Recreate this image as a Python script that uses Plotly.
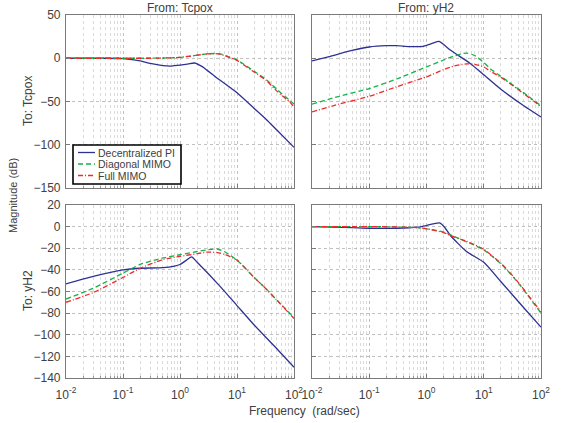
import plotly.graph_objects as go

# ---------------- data ----------------
# Tcpox -> Tcpox (top-left)
f_tl_pi = [0.01, 0.05, 0.1, 0.2, 0.3, 0.5, 0.7, 1.0, 1.4, 1.8, 2.5, 3, 4.5, 6, 10, 20, 33, 50, 100]
m_tl_pi = [0, 0, -0.5, -3, -6, -8.5, -9, -8, -6.5, -5.5, -10, -14, -23, -29, -40, -58, -71, -83, -103]
f_tl_mimo = [0.01, 0.1, 0.3, 0.7, 1, 2, 3, 4, 5, 7, 10, 20, 33, 50, 85, 100]
m_tl_diag = [0, 0, 0, 0.5, 1, 3.5, 5, 5.5, 5, 2, -2, -15, -25, -36, -49, -53]
m_tl_full = [0, 0, 0, 0.5, 1, 3.5, 5, 5.3, 4.8, 1.5, -2.5, -16, -26, -38, -51, -56]

# yH2 -> Tcpox (top-right)
f_tr_pi = [0.01, 0.02, 0.05, 0.1, 0.2, 0.3, 0.5, 0.8, 1.0, 1.3, 1.66, 2.6, 5.8, 10, 21, 50, 100]
m_tr_pi = [-3, 2, 9, 13, 14.5, 14.5, 13.5, 13.5, 15, 17.5, 19.5, 9.5, -6, -19, -37, -55, -68]
f_tr_mimo = [0.01, 0.03, 0.1, 0.3, 1, 2, 3, 5, 7, 10, 13, 20, 50, 100]
m_tr_diag = [-53, -44, -35, -24, -10, -2, 2.5, 6, 3, -5, -12, -21, -40, -55]
m_tr_full = [-62, -53, -44, -33, -21.5, -13, -9, -6.5, -7, -10, -15, -22, -41, -56]

# Tcpox -> yH2 (bottom-left)
f_bl_pi = [0.01, 0.03, 0.1, 0.2, 0.5, 0.8, 1.0, 1.3, 1.6, 2, 5, 10, 20, 50, 100]
m_bl_pi = [-53, -46, -40, -38.5, -38, -36.5, -35, -31, -28, -33, -55, -73, -91, -113, -130]
f_bl_mimo = [0.01, 0.03, 0.1, 0.2, 0.5, 1, 2, 3, 4.5, 6, 10, 20, 33, 50, 100]
m_bl_diag = [-67, -57, -43, -35, -29, -26, -23, -21.5, -20.7, -23, -31, -47, -58, -68, -84]
m_bl_full = [-70, -61, -47, -38.5, -30.5, -27.5, -25, -23.6, -24, -25.5, -31, -47, -58, -68, -85]

# yH2 -> yH2 (bottom-right)
f_br_pi = [0.01, 0.05, 0.1, 0.3, 0.7, 1.0, 1.3, 1.7, 2.1, 2.6, 5, 10, 20, 50, 100]
m_br_pi = [0, -1, -1.5, -1.5, -0.5, 1, 2.5, 3.5, -1, -8, -23, -33, -51, -75, -93]
f_br_mimo = [0.01, 0.1, 0.3, 0.7, 1, 2, 3, 5, 10, 21, 40, 100]
m_br_diag = [0, 0, -0.3, -1, -2, -5, -9, -14, -21.5, -35.5, -52, -80]
m_br_full = [0, 0, -0.3, -1, -2, -5.5, -9.5, -13.5, -21, -35, -51.5, -79]

series_names = ["Decentralized PI", "Diagonal MIMO", "Full MIMO"]
x_tickvals = [0.01, 0.1, 1, 10, 100]
x_ticktext = ["10<sup>-2</sup>", "10<sup>-1</sup>", "10<sup>0</sup>", "10<sup>1</sup>", "10<sup>2</sup>"]
y_top_ticks = [-150, -100, -50, 0, 50]
y_bot_ticks = [-140, -120, -100, -80, -60, -40, -20, 0, 20]

# ---------------- styling ----------------
C_PI = "#2e3192"
C_DIAG = "#14b24a"
C_FULL = "#ec2b2b"
TXT = "#404040"
FONT = "Liberation Sans, Arial, sans-serif"
DASH_DIAG = "5px,3px"
DASH_FULL = "5px,2px,1px,2px"

W, H = 561, 423
def fx(px):
    return px / W
def fy(py):
    return 1 - py / H

dom_x_left = [fx(66), fx(294)]
dom_x_right = [fx(312), fx(541)]
dom_y_top = [fy(188), fy(15)]
dom_y_bot = [fy(378), fy(205)]

fig = go.Figure()

panels = [
    ("x", "y", f_tl_pi, m_tl_pi, f_tl_mimo, m_tl_diag, m_tl_full),
    ("x2", "y2", f_tr_pi, m_tr_pi, f_tr_mimo, m_tr_diag, m_tr_full),
    ("x3", "y3", f_bl_pi, m_bl_pi, f_bl_mimo, m_bl_diag, m_bl_full),
    ("x4", "y4", f_br_pi, m_br_pi, f_br_mimo, m_br_diag, m_br_full),
]
for xa, ya, fpi, mpi, fm, md, mf in panels:
    fig.add_trace(go.Scatter(x=fpi, y=mpi, mode="lines", name=series_names[0],
                             line=dict(color=C_PI, width=1.3, shape="spline", smoothing=0.6),
                             xaxis=xa, yaxis=ya, showlegend=False))
    fig.add_trace(go.Scatter(x=fm, y=md, mode="lines", name=series_names[1],
                             line=dict(color=C_DIAG, width=1.3, dash=DASH_DIAG, shape="spline", smoothing=0.6),
                             xaxis=xa, yaxis=ya, showlegend=False))
    fig.add_trace(go.Scatter(x=fm, y=mf, mode="lines", name=series_names[2],
                             line=dict(color=C_FULL, width=1.3, dash=DASH_FULL, shape="spline", smoothing=0.6),
                             xaxis=xa, yaxis=ya, showlegend=False))

grid_common = dict(showgrid=True, gridcolor="#c0c0c0", griddash="dot", gridwidth=1,
                   showline=True, mirror=True, linecolor="#7a7a7a", linewidth=1.2,
                   zeroline=False, ticks="inside", ticklen=4, tickcolor="#7a7a7a",
                   tickfont=dict(family=FONT, size=12, color=TXT))

def xaxis_cfg(domain, anchor, labels):
    d = dict(grid_common)
    d.update(type="log", range=[-2, 2], domain=domain, anchor=anchor,
             tickvals=x_tickvals, ticktext=x_ticktext, showticklabels=labels,
             ticklabelstandoff=5,
             minor=dict(dtick="D1", showgrid=True, gridcolor="#dadada", griddash="dot",
                        gridwidth=1, ticks="inside", ticklen=2, tickcolor="#9a9a9a"))
    return d

def yaxis_cfg(domain, anchor, rng, ticks, labels):
    d = dict(grid_common)
    d.update(range=rng, domain=domain, anchor=anchor, tickvals=ticks,
             showticklabels=labels, ticklabelstandoff=2)
    return d

fig.update_layout(
    width=W, height=H,
    margin=dict(l=0, r=0, t=0, b=0, pad=0, autoexpand=False),
    paper_bgcolor="white", plot_bgcolor="white",
    font=dict(family=FONT, color=TXT, size=11),
    showlegend=False,
    xaxis=xaxis_cfg(dom_x_left, "y", False),
    yaxis=yaxis_cfg(dom_y_top, "x", [-150, 50], y_top_ticks, True),
    xaxis2=xaxis_cfg(dom_x_right, "y2", False),
    yaxis2=yaxis_cfg(dom_y_top, "x2", [-150, 50], y_top_ticks, False),
    xaxis3=xaxis_cfg(dom_x_left, "y3", True),
    yaxis3=yaxis_cfg(dom_y_bot, "x3", [-140, 20], y_bot_ticks, True),
    xaxis4=xaxis_cfg(dom_x_right, "y4", True),
    yaxis4=yaxis_cfg(dom_y_bot, "x4", [-140, 20], y_bot_ticks, False),
)

# ---------- compact legend box (MATLAB style) ----------
lg_x0, lg_x1, lg_y0, lg_y1 = 73, 181, 145, 184
fig.add_shape(type="rect", xref="paper", yref="paper",
              x0=fx(lg_x0), x1=fx(lg_x1), y0=fy(lg_y1), y1=fy(lg_y0),
              line=dict(color="black", width=1.6), fillcolor="white", layer="above")
legend_rows = [(series_names[0], C_PI, "solid", 152.5),
               (series_names[1], C_DIAG, DASH_DIAG, 164),
               (series_names[2], C_FULL, DASH_FULL, 175.5)]
for name, col, dash, yy in legend_rows:
    fig.add_shape(type="line", xref="paper", yref="paper",
                  x0=fx(78), x1=fx(95), y0=fy(yy), y1=fy(yy),
                  line=dict(color=col, width=1.3, dash=dash), layer="above")
    fig.add_annotation(text=name, x=fx(96.5), y=fy(yy), xref="paper", yref="paper",
                       showarrow=False, xanchor="left", yanchor="middle", borderpad=0,
                       font=dict(family=FONT, size=10.5, color=TXT))

ann = [
    dict(text="From: Tcpox", x=fx(180), y=fy(8.5), rot=0, size=12),
    dict(text="From: yH2", x=fx(426), y=fy(8.5), rot=0, size=12),
    dict(text="To: Tcpox", x=fx(28), y=fy(101), rot=-90, size=12),
    dict(text="To: yH2", x=fx(28), y=fy(291), rot=-90, size=12),
    dict(text="Magnitude (dB)", x=fx(13), y=fy(196), rot=-90, size=11),
    dict(text="Frequency  (rad/sec)", x=fx(304), y=fy(411), rot=0, size=12),
]
for a in ann:
    fig.add_annotation(text=a["text"], x=a["x"], y=a["y"], xref="paper", yref="paper",
                       showarrow=False, textangle=a["rot"], xanchor="center", yanchor="middle",
                       font=dict(family=FONT, size=a["size"], color=TXT))

fig.write_html("out.html")
